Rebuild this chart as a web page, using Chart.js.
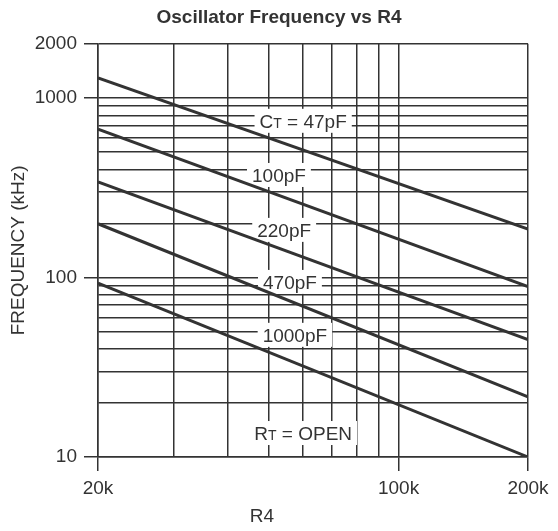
<!DOCTYPE html>
<html>
<head>
<meta charset="utf-8">
<script src="https://cdn.jsdelivr.net/npm/chart.js@4.4.0/dist/chart.umd.min.js"></script>
<style>
  body { margin: 0; background: #fff; }
</style>
</head>
<body>
<canvas id="chart" width="558" height="531"></canvas>
<script>
// Valores (escala log-log)
const resistencias = [20000, 200000];
const freq47pF = [1290, 186];
const freq100pF = [670, 89];
const freq220pF = [340, 45];
const freq470pF = [199, 21.6];
const freq1000pF = [93, 10];

// Ticks dos eixos
const ticksX = [20000, 30000, 40000, 50000, 60000, 70000, 80000, 90000, 100000, 200000];
const rotulosX = { 20000: '20k', 100000: '100k', 200000: '200k' };
const ticksY = [10, 20, 30, 40, 50, 60, 70, 80, 90, 100, 200, 300, 400, 500, 600, 700, 800, 900, 1000, 2000];
const rotulosY = { 10: '10', 100: '100', 1000: '1000', 2000: '2000' };

const FONTE = '"Liberation Sans", Arial, sans-serif';
const COR = '#333';

// Rótulos das curvas (em coordenadas de dados)
const rotulosCurvas = [
  { pre: 'C', sub: 'T', txt: ' = 47pF', x: 60000, y: 745 },
  { pre: '', sub: '', txt: '100pF', x: 52700, y: 372 },
  { pre: '', sub: '', txt: '220pF', x: 54200, y: 184 },
  { pre: '', sub: '', txt: '470pF', x: 55900, y: 94.4 },
  { pre: '', sub: '', txt: '1000pF', x: 57400, y: 47.9 },
  { pre: 'R', sub: 'T', txt: ' = OPEN', x: 60000, y: 13.6 }
];

function pontos(valores) {
  return resistencias.map((r, i) => ({ x: r, y: valores[i] }));
}

function serie(label, valores) {
  return {
    label: label,
    data: pontos(valores),
    borderColor: COR,
    borderWidth: 3,
    pointRadius: 0,
    fill: false,
    tension: 0
  };
}

// Plugin: rótulos com fundo branco sobre a grade
const pluginRotulos = {
  id: 'rotulos',
  beforeDatasetsDraw(chart) {
    const { ctx, scales } = chart;
    ctx.save();
    rotulosCurvas.forEach(r => {
      const px = scales.x.getPixelForValue(r.x);
      const py = scales.y.getPixelForValue(r.y);
      ctx.font = '19px ' + FONTE;
      const w1 = ctx.measureText(r.pre).width;
      const w3 = ctx.measureText(r.txt).width;
      ctx.font = '14px ' + FONTE;
      const w2 = ctx.measureText(r.sub).width;
      const total = w1 + w2 + w3;
      const x0 = px - total / 2;
      ctx.fillStyle = '#fff';
      ctx.fillRect(x0 - 5, py - 12, total + 10, 24);
      ctx.fillStyle = COR;
      ctx.textBaseline = 'alphabetic';
      ctx.textAlign = 'left';
      const base = py + 7;
      ctx.font = '19px ' + FONTE;
      ctx.fillText(r.pre, x0, base);
      ctx.font = '14px ' + FONTE;
      ctx.fillText(r.sub, x0 + w1, base);
      ctx.font = '19px ' + FONTE;
      ctx.fillText(r.txt, x0 + w1 + w2, base);
    });
    ctx.restore();
  },
  afterDraw(chart) {
    // título do eixo X
    const { ctx, chartArea } = chart;
    ctx.save();
    ctx.font = '19px ' + FONTE;
    ctx.fillStyle = COR;
    ctx.textAlign = 'center';
    ctx.textBaseline = 'middle';
    ctx.fillText('R4', chartArea.left + 164, chartArea.bottom + 60);
    ctx.restore();
  }
};

const ctx = document.getElementById('chart').getContext('2d');
new Chart(ctx, {
  type: 'line',
  data: {
    datasets: [
      serie('47pF', freq47pF),
      serie('100pF', freq100pF),
      serie('220pF', freq220pF),
      serie('470pF', freq470pF),
      serie('1000pF', freq1000pF)
    ]
  },
  options: {
    responsive: false,
    animation: false,
    layout: { padding: 0 },
    plugins: {
      legend: { display: false },
      tooltip: { enabled: false },
      title: {
        display: true,
        text: 'Oscillator Frequency vs R4',
        color: COR,
        font: { family: FONTE, size: 19, weight: 'bold' },
        padding: { top: 6, bottom: 15 }
      }
    },
    scales: {
      x: {
        type: 'logarithmic',
        min: 20000,
        max: 200000,
        afterBuildTicks: s => { s.ticks = ticksX.map(v => ({ value: v })); },
        afterFit: s => { s.height = 74; },
        ticks: {
          autoSkip: false,
          maxRotation: 0,
          padding: 6,
          color: COR,
          font: { family: FONTE, size: 19 },
          callback: v => rotulosX[v] || ''
        },
        grid: {
          color: COR,
          lineWidth: 1.5,
          tickLength: 14,
          tickWidth: 1.5,
          tickColor: c => (c.tick && rotulosX[c.tick.value]) ? COR : 'rgba(0,0,0,0)'
        },
        border: { color: COR, width: 1.5 }
      },
      y: {
        type: 'logarithmic',
        min: 10,
        max: 2000,
        afterBuildTicks: s => { s.ticks = ticksY.map(v => ({ value: v })); },
        afterFit: s => { s.width = 98; },
        ticks: {
          autoSkip: false,
          padding: 7,
          color: COR,
          font: { family: FONTE, size: 19 },
          callback: v => rotulosY[v] || ''
        },
        grid: {
          color: COR,
          lineWidth: 1.5,
          tickLength: 14,
          tickWidth: 1.5,
          tickColor: c => (c.tick && rotulosY[c.tick.value]) ? COR : 'rgba(0,0,0,0)'
        },
        border: { color: COR, width: 1.5 },
        title: {
          display: true,
          text: 'FREQUENCY (kHz)',
          color: COR,
          font: { family: FONTE, size: 19 },
          padding: { top: 7, bottom: 0 }
        }
      },
      // eixo vazio à direita só para reservar espaço
      margemDireita: {
        type: 'linear',
        position: 'right',
        afterFit: s => { s.width = 30; },
        ticks: { display: false },
        grid: { display: false, drawTicks: false },
        border: { display: false }
      }
    }
  },
  plugins: [pluginRotulos]
});
</script>
</body>
</html>
